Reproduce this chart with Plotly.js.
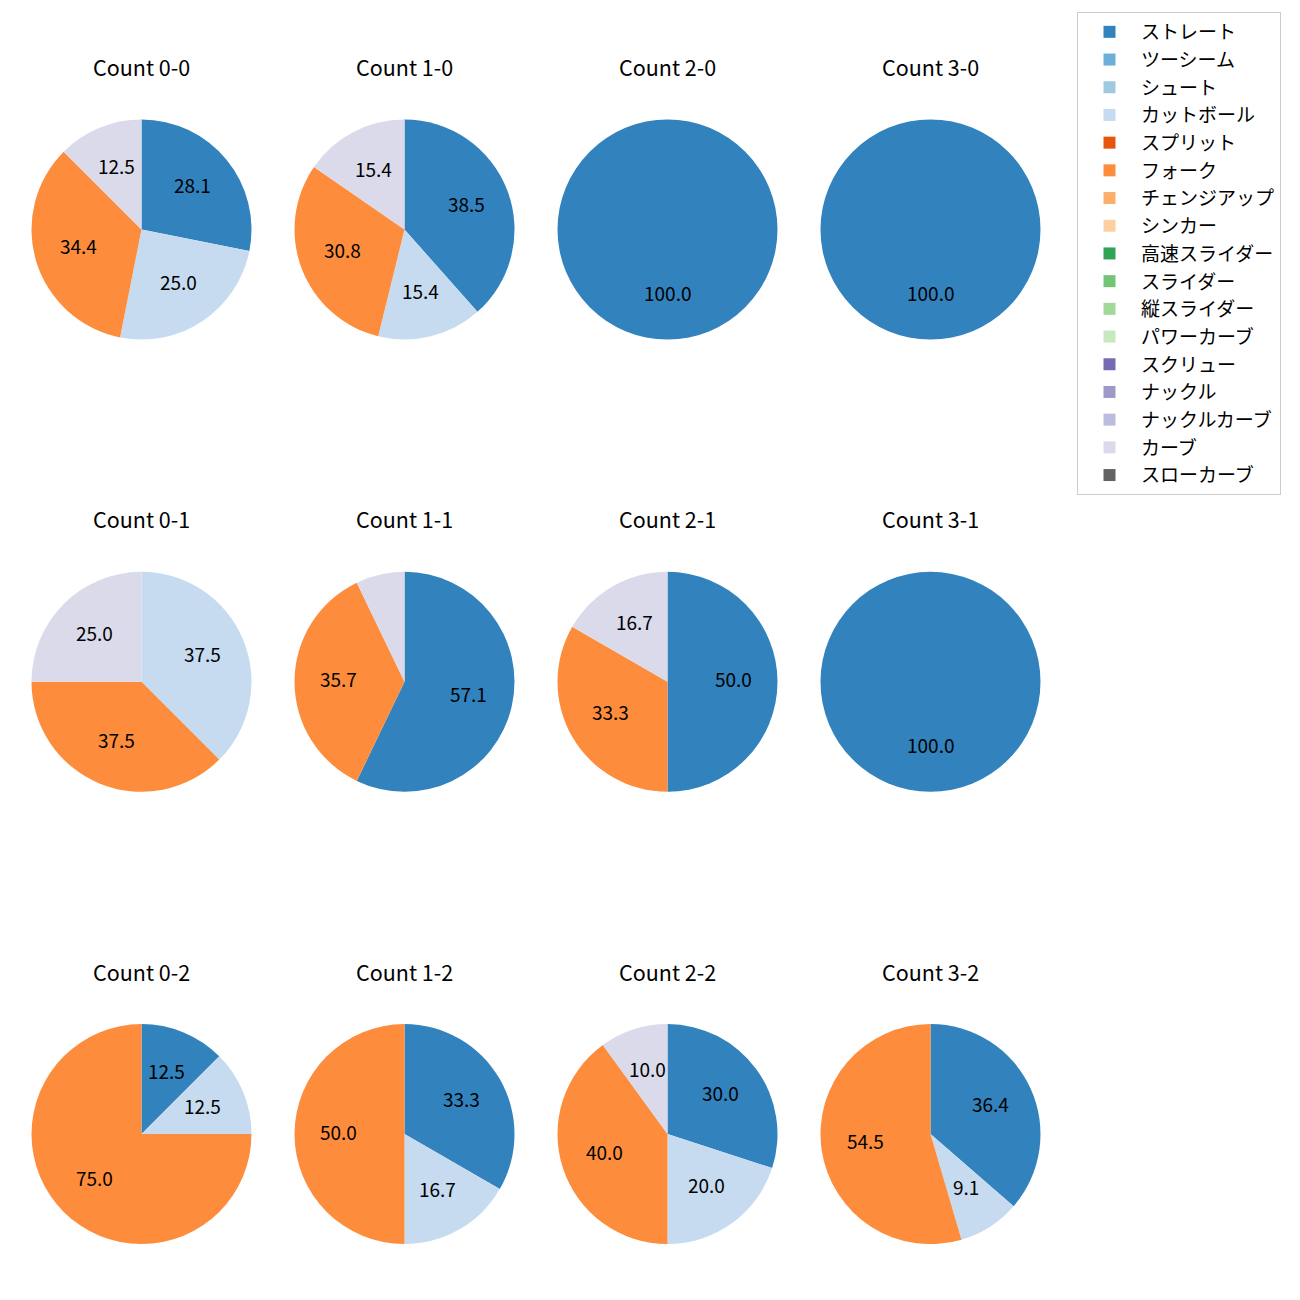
<!DOCTYPE html>
<html><head><meta charset="utf-8">
<script src="https://cdn.plot.ly/plotly-3.0.1.min.js"></script>
</head><body style="margin:0;background:#fff">
<div id="chart" style="width:1300px;height:1300px"></div>
<script>
const pitchTypes = ['ストレート','ツーシーム','シュート','カットボール','スプリット','フォーク','チェンジアップ','シンカー','高速スライダー','スライダー','縦スライダー','パワーカーブ','スクリュー','ナックル','ナックルカーブ','カーブ','スローカーブ'];
const pitchColors = ['#3182bd','#6baed6','#9ecae1','#c6dbef','#e6550d','#fd8d3c','#fdae6b','#fdd0a2','#31a354','#74c476','#a1d99b','#c7e9c0','#756bb1','#9e9ac8','#bcbddc','#dadaeb','#636363'];
const countLabels = ['Count 0-0','Count 1-0','Count 2-0','Count 3-0','Count 0-1','Count 1-1','Count 2-1','Count 3-1','Count 0-2','Count 1-2','Count 2-2','Count 3-2'];
// pitch counts per count situation (same order as countLabels)
const straightCounts = [9,5,1,1, 0,8,3,1, 1,2,3,4];
const cutterCounts   = [8,2,0,0, 3,0,0,0, 1,1,2,1];
const forkCounts     = [11,4,0,0, 3,5,2,0, 6,3,4,6];
const curveCounts    = [4,2,0,0, 2,1,1,0, 0,0,1,0];

const W = 1300, H = 1300, R = 110;
const FONT = '"Noto Sans CJK JP", "Noto Sans", sans-serif';
function colX(c){ return 141.5 + 263*c; }
function rowY(r){ return 229.5 + 452.3*r; }

const traces = [];
const annotations = [];
countLabels.forEach((lab, i) => {
  const vals = pitchTypes.map(() => 0);
  vals[pitchTypes.indexOf('ストレート')] = straightCounts[i];
  vals[pitchTypes.indexOf('カットボール')] = cutterCounts[i];
  vals[pitchTypes.indexOf('フォーク')] = forkCounts[i];
  vals[pitchTypes.indexOf('カーブ')] = curveCounts[i];
  const c = i % 4, r = Math.floor(i / 4);
  const cx = colX(c), cy = rowY(r);
  traces.push({
    type: 'pie', labels: pitchTypes, values: vals, sort: false,
    direction: 'clockwise', rotation: 0, textinfo: 'none',
    showlegend: false, hoverinfo: 'label+percent',
    marker: {colors: pitchColors, line: {width: 0}},
    domain: {x: [(cx - R)/W, (cx + R)/W], y: [1 - (cy + R)/H, 1 - (cy - R)/H]}
  });
  annotations.push({
    text: lab, x: cx/W, y: 1 - (cy - 163)/H, xref: 'paper', yref: 'paper',
    showarrow: false, xanchor: 'center', yanchor: 'middle',
    font: {size: 21.5, color: '#000', family: FONT}
  });
  const total = vals.reduce((a, b) => a + b, 0);
  let cum = 0;
  vals.forEach(v => {
    if (v <= 0) return;
    const pct = 100 * v / total;
    const mid = 90 - 360 * (cum + v/2) / total;
    cum += v;
    if (pct < 8) return;
    const th = mid * Math.PI / 180;
    annotations.push({
      text: pct.toFixed(1), xref: 'paper', yref: 'paper',
      x: (cx + 0.6*R*Math.cos(th))/W, y: 1 - (cy - 0.6*R*Math.sin(th) - 3)/H,
      showarrow: false, xanchor: 'center', yanchor: 'middle',
      font: {size: 19, color: '#000', family: FONT}
    });
  });
});

pitchTypes.forEach((name, k) => {
  traces.push({
    type: 'bar', x: [null], y: [null], name: name, legendgroup: 'g' + k,
    marker: {color: pitchColors[k]}, showlegend: true, hoverinfo: 'skip'
  });
});

const layout = {
  width: W, height: H, margin: {l: 0, r: 0, t: 0, b: 0},
  paper_bgcolor: '#fff', plot_bgcolor: 'rgba(0,0,0,0)',
  font: {family: FONT, color: '#000'},
  xaxis: {visible: false, domain: [0, 0.01]}, yaxis: {visible: false, domain: [0, 0.01]},
  showlegend: true,
  legend: {
    x: 1077/W, y: 1 - 12/H, xanchor: 'left', yanchor: 'top',
    bordercolor: '#cccccc', borderwidth: 1, bgcolor: '#fff',
    font: {size: 19, family: FONT, color: '#000'},
    traceorder: 'grouped', tracegroupgap: 0, itemwidth: 53
  },
  annotations: annotations
};
Plotly.newPlot('chart', traces, layout, {displayModeBar: false, staticPlot: true});
</script>
</body></html>
